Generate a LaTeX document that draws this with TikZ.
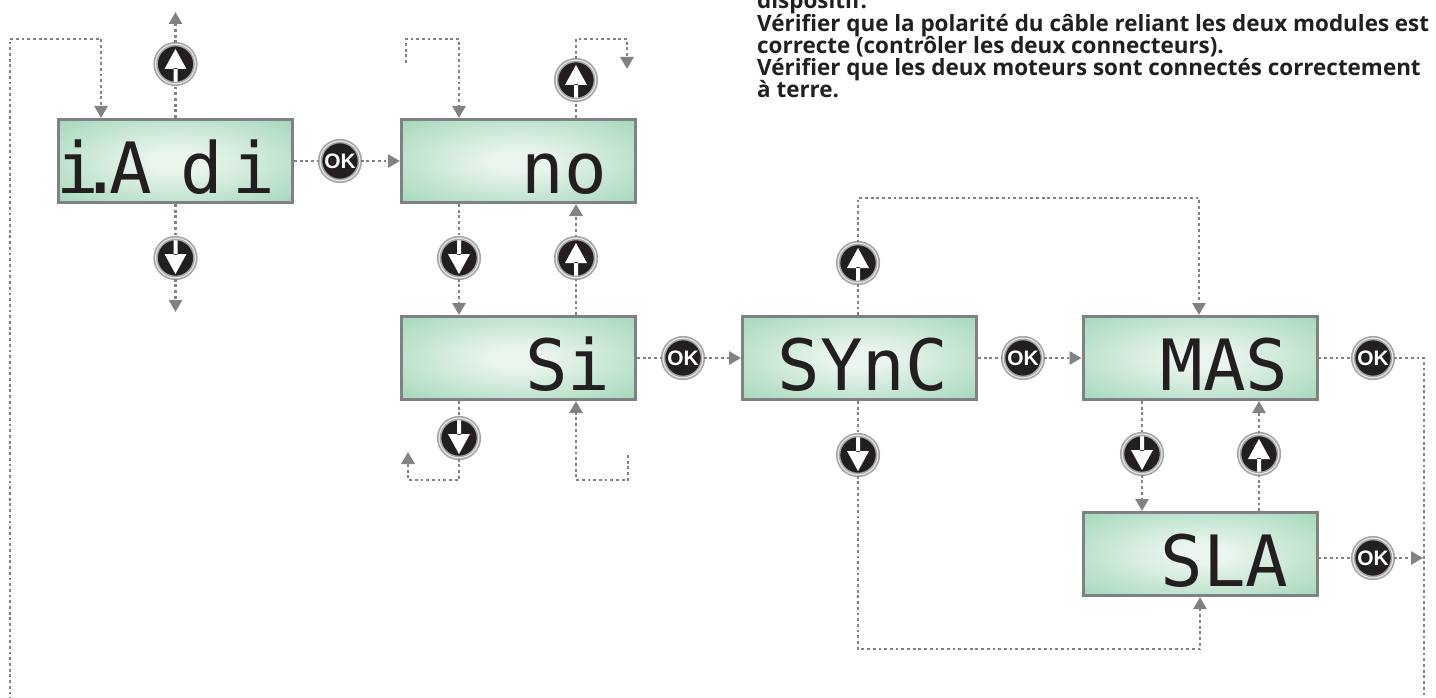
\documentclass[tikz,border=0pt]{standalone}
\usepackage{fontspec}
\usetikzlibrary{arrows.meta,calc}
\newfontfamily\notefont{Open Sans}
\newfontfamily\lcdfont{DejaVu Sans Mono}
\newfontfamily\okfont{Liberation Sans}
\definecolor{linegray}{HTML}{808285}
\definecolor{boxborder}{HTML}{7F8184}
\definecolor{lcdout}{HTML}{A9D9BD}
\definecolor{lcdin}{HTML}{EAF5EE}
\definecolor{lcdink}{HTML}{231F20}
\definecolor{btnblack}{HTML}{231F20}
\definecolor{ringgray}{HTML}{A3A5A8}
\definecolor{ringlight}{HTML}{E4E5E6}
\definecolor{notecol}{HTML}{231F20}
\pgfdeclareradialshading{lcdshade}{\pgfpoint{0bp}{0bp}}{color(0bp)=(lcdin); color(6bp)=(lcdin); color(34bp)=(lcdout); color(80bp)=(lcdout)}
\tikzset{
  dl/.style={draw=linegray, line width=2.8bp, dash pattern=on 2.8bp off 2.9bp},
  dla/.style={dl, -{Triangle[length=12bp,width=13bp]}},
  lcd/.style={rectangle, minimum width=234bp, minimum height=83bp, inner sep=0,
    draw=boxborder, line width=3bp, shading=lcdshade},
  lcdtext/.style={font=\lcdfont\fontsize{71}{71}\selectfont, text=lcdink, inner sep=0, anchor=base east},
  btn/.style={circle, minimum size=39.8bp, inner sep=0, fill=btnblack,
    draw=ringgray, line width=1.6bp, double=ringlight, double distance=1.2bp},
  upbtn/.style={btn, path picture={\fill[white, shift={(path picture bounding box.center)}]
    (-11,5) -- (0,-15) -- (11,5) -- cycle (-2,4) rectangle (2,24);}},
  dnbtn/.style={btn, path picture={\fill[white, shift={(path picture bounding box.center)}]
    (-11,-4) -- (0,16) -- (11,-4) -- cycle (-2,-3) rectangle (2,-24);}},
  okbtn/.style={btn, text=white, font=\okfont\bfseries\fontsize{21}{21}\selectfont},
  note/.style={font=\notefont\bfseries\fontsize{22.5}{22}\selectfont, text=notecol, inner sep=0, anchor=base west}
}
\begin{document}
\begin{tikzpicture}[x=1bp,y=-1bp]
\useasboundingbox (0,0) rectangle (1436,698);

% displays
\node[lcd] (A) at (175.5,161) {};
\node[lcd] (B) at (518.5,161) {};
\node[lcd] (C) at (518.5,358) {};
\node[lcd] (D) at (859.5,358) {};
\node[lcd] (E) at (1200,358) {};
\node[lcd] (F) at (1200,554) {};

\node[lcdtext] (tA) at ($(A.center)+(100,32)$) {i\kern-19bp.\kern-13bp A\kern28bp d\kern10bp i};
\node[lcdtext] (tB) at ($(B.center)+(88.5,32)$) {no};
\node[lcdtext] (tC) at ($(C.center)+(92,32)$) {Si};
\node[lcdtext] (tD) at ($(D.center)+(88.5,32)$) {SYnC};
\node[lcdtext] (tE) at ($(E.center)+(88.5,32)$) {MAS};
\node[lcdtext] (tF) at ($(F.center)+(88.5,32)$) {SLA};

% buttons
\node[upbtn] (upA) at (175.5,64) {};
\node[dnbtn] (downA) at (175.5,258) {};
\node[okbtn] (okAB) at (340,161) {OK};
\node[upbtn] (upB) at (576,80) {};
\node[dnbtn] (downB) at (459,258) {};
\node[upbtn] (upC) at (576,258) {};
\node[okbtn] (okCD) at (683,358) {OK};
\node[dnbtn] (downC) at (459,438) {};
\node[upbtn] (upD) at (858,263) {};
\node[dnbtn] (downD) at (858,455) {};
\node[okbtn] (okDE) at (1023,358) {OK};
\node[dnbtn] (downE) at (1142,454) {};
\node[upbtn] (upF) at (1259,454) {};
\node[okbtn] (okE) at (1373,358) {OK};
\node[okbtn] (okF) at (1373,558) {OK};

% helper coordinates
\coordinate (lA1) at (10,700);
\coordinate (lA2) at (10,39);
\coordinate (lA3) at (101,39);
\coordinate (tipA) at (175.5,12);
\coordinate (tipAd) at (175.5,312);
\coordinate (sB1) at (406,63);
\coordinate (sB2) at (406,39);
\coordinate (sB3) at (459,39);
\coordinate (uB1) at (576,39);
\coordinate (uB2) at (627,39);
\coordinate (uB3) at (627,69);
\coordinate (dC1) at (459,480);
\coordinate (dC2) at (408,480);
\coordinate (dC3) at (408,452);
\coordinate (uC1) at (628,455);
\coordinate (uC2) at (628,480);
\coordinate (uC3) at (576,480);
\coordinate (dU1) at (858,198);
\coordinate (dU2) at (1199,198);
\coordinate (dD1) at (858,649);
\coordinate (dD2) at (1200,649);
\coordinate (eR1) at (1424,358);
\coordinate (eR2) at (1424,700);
\coordinate (fR) at (1423,558);

% connectors
\draw[dla] (lA1) -- (lA2) -- (lA3) -- (A.north -| lA3);
\draw[dl] (A.north) -- (upA);
\draw[dla] (upA) -- (tipA);
\draw[dl] (A.south) -- (downA);
\draw[dla] (downA) -- (tipAd);
\draw[dl] (A.east) -- (okAB);
\draw[dla] (okAB) -- (B.west);

\draw[dla] (sB1) -- (sB2) -- (sB3) -- (B.north -| sB3);
\draw[dl] (B.north -| upB) -- (upB);
\draw[dla] (upB) -- (uB1) -- (uB2) -- (uB3);
\draw[dl] (B.south -| downB) -- (downB);
\draw[dla] (downB) -- (C.north -| downB);
\draw[dl] (C.north -| upC) -- (upC);
\draw[dla] (upC) -- (B.south -| upC);

\draw[dl] (C.south -| downC) -- (downC);
\draw[dla] (downC) -- (dC1) -- (dC2) -- (dC3);
\draw[dla] (uC1) -- (uC2) -- (uC3) -- (C.south -| uC3);
\draw[dl] (C.east) -- (okCD);
\draw[dla] (okCD) -- (D.west);

\draw[dl] (D.north -| upD) -- (upD);
\draw[dla] (upD) -- (dU1) -- (dU2) -- (E.north -| dU2);
\draw[dl] (D.south -| downD) -- (downD);
\draw[dla] (downD) -- (dD1) -- (dD2) -- (F.south -| dD2);
\draw[dl] (D.east) -- (okDE);
\draw[dla] (okDE) -- (E.west);

\draw[dl] (E.south -| downE) -- (downE);
\draw[dla] (downE) -- (F.north -| downE);
\draw[dl] (F.north -| upF) -- (upF);
\draw[dla] (upF) -- (E.south -| upF);
\draw[dl] (E.east) -- (okE);
\draw[dl] (okE) -- (eR1) -- (eR2);
\draw[dl] (F.east |- okF) -- (okF);
\draw[dla] (okF) -- (fR);

% note text
\node[note] (n1) at (757,9) {dispositif.};
\node[note] (n2) at (757,32) {Vérifier que la polarité du câble reliant les deux modules est};
\node[note] (n3) at (757,54) {correcte (contrôler les deux connecteurs).};
\node[note] (n4) at (757,76) {Vérifier que les deux moteurs sont connectés correctement};
\node[note] (n5) at (757,98) {à terre.};
\end{tikzpicture}
\end{document}
